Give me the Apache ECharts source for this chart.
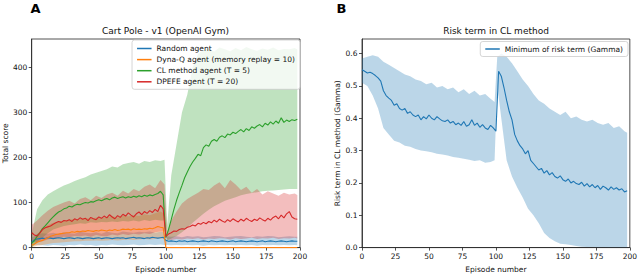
<!DOCTYPE html>
<html><head><meta charset="utf-8">
<script src="https://cdn.jsdelivr.net/npm/echarts/dist/echarts.min.js"></script>
<style>html,body{margin:0;padding:0;background:#fff}#c{width:640px;height:278px}</style>
</head><body><div id="c"></div>
<script>
// ---------- DATA ----------
const episodes = [0,2,4,6,8,10,12,14,16,18,20,22,24,26,28,30,32,34,36,38,40,42,44,46,48,50,52,54,56,58,60,62,64,66,68,70,72,74,76,78,80,82,84,86,88,90,92,94,96,98,
100,102,104,106,108,110,112,114,116,118,120,122,124,126,128,130,132,134,136,138,140,142,144,146,148,150,152,154,156,158,160,162,164,166,168,170,172,174,176,178,180,182,184,186,188,190,192,194,196,198];
const bandEpisodes = [0,4,8,12,16,20,24,28,32,36,40,44,48,52,56,60,64,68,72,76,80,84,88,92,96,99,101,
104,108,112,116,120,124,128,132,136,140,144,148,152,156,160,164,168,172,176,180,184,188,192,196,198];

const xTicks = [0,25,50,75,100,125,150,175,200];
const scoreTicks = [0,100,200,300,400];
const riskTicks = [0,0.1,0.2,0.3,0.4,0.5,0.6];

const agentNames = ['Random agent','Dyna-Q agent (memory replay = 10)','CL method agent (T = 5)','DPEFE agent (T = 20)'];
const riskName = 'Minimum of risk term (Gamma)';

const randomMean = [12,17,19,20,21,20,22,21,20,21,22,21,20,21,22,21,20,22,21,20,21,22,21,20,21,22,20,21,22,21,20,21,22,21,22,20,21,22,23,21,22,21,20,22,21,23,22,21,22,23,
16,14,15,14,13,15,14,15,13,14,15,14,13,14,15,14,13,15,14,13,14,15,14,13,14,15,13,14,15,14,13,14,15,14,13,14,15,13,14,15,14,13,14,15,14,13,14,15,14,14];
const dynaMean = [5,8,12,14,16,19,22,25,27,29,30,31,32,33,33,35,34,36,35,37,36,38,37,36,38,37,39,38,37,39,38,40,38,39,41,40,41,39,42,40,41,40,42,41,43,42,44,47,45,44,
0,0,0,0,0,0,0,0,0,0,0,0,0,0,0,0,0,0,0,0,0,0,0,0,0,0,0,0,0,0,0,0,0,0,0,0,0,0,0,0,0,0,0,0,0,0,0,0,0,0];
const clMean = [10,15,25,33,42,48,55,62,68,74,79,82,86,88,92,90,94,96,95,98,100,99,102,101,104,106,104,107,109,106,110,112,109,111,113,110,113,111,114,112,115,113,116,114,117,115,118,120,125,117,
22,40,62,85,105,122,138,155,168,180,190,198,207,204,222,228,225,236,240,236,245,248,244,252,250,256,253,258,262,257,264,260,268,265,270,273,268,276,272,279,274,281,276,288,278,283,280,284,282,285];
const dpefeMean = [33,28,26,32,40,44,46,48,52,55,58,56,60,59,62,58,64,61,66,63,65,60,67,64,62,68,65,70,66,73,68,64,71,67,74,70,77,72,68,75,79,73,80,76,82,78,85,80,94,86,
25,30,33,37,36,40,42,41,45,47,50,48,54,52,56,53,58,55,61,57,63,59,56,62,58,64,60,57,63,59,65,61,58,63,60,66,62,59,65,61,67,70,64,72,66,75,80,68,64,63];

const randomLow = [4,6,5,4,6,5,4,6,5,7,5,6,4,6,5,7,6,5,6,7,5,6,7,6,7, 6,6, 5,6,5,6,5,6,4,6,5,6,5,6,5,6,5,6,4,6,5,6,5,6,5,6, 5];
const randomHigh = [22,30,32,31,33,30,34,32,31,35,33,32,34,31,35,33,32,36,34,33,35,34,36,33,35, 34,25, 24,25,23,26,24,25,23,24,26,25,23,24,25,26,24,23,25,24,26,25,23,24,25,24, 24];
const dynaLow = [1,4,6,8,10,11,12,13,14,14,15,15,16,15,16,17,16,17,18,17,18,19,18,19,20, 18,0, 0,0,0,0,0,0,0,0,0,0,0,0,0,0,0,0,0,0,0,0,0,0,0,0, 0];
const dynaHigh = [12,30,42,50,55,58,60,62,64,63,66,64,67,65,68,70,67,71,69,72,70,74,72,76,80, 75,0, 0,0,0,0,0,0,0,0,0,0,0,0,0,0,0,0,0,0,0,0,0,0,0,0, 0];
const clLow = [0,12,22,32,40,44,48,50,52,54,53,56,55,57,56,58,57,59,58,60,58,61,59,62,60, 60,15, 20,26,34,44,55,65,75,84,92,98,104,108,112,116,119,121,123,125,126,127,128,129,130,130, 130];
const clHigh = [30,85,105,118,125,132,138,142,148,152,156,162,166,170,174,180,178,185,188,190,186,192,190,194,192, 195,50, 160,230,300,340,400,430,438,442,435,444,440,436,443,438,445,440,437,442,439,444,438,441,440,443, 440];
const dpefeLow = [15,12,14,18,20,22,24,23,26,25,27,24,28,26,25,29,27,30,28,31,29,32,30,34,36, 35,18, 17,19,18,20,19,21,18,20,19,21,20,18,21,19,20,22,19,21,20,22,19,21,20,22, 20];
const dpefeHigh = [50,60,72,82,90,95,100,104,98,108,112,105,115,110,118,122,115,126,120,130,125,135,140,132,150, 140,35, 60,80,98,108,115,122,130,128,138,145,132,150,140,128,135,122,130,118,125,120,115,122,118,120, 117];

const riskMean = [0.550,0.545,0.540,0.542,0.538,0.532,0.525,0.515,0.485,0.470,
0.462,0.455,0.440,0.445,0.430,0.425,0.430,0.415,0.420,0.410,
0.405,0.410,0.395,0.405,0.398,0.410,0.400,0.395,0.405,0.398,
0.392,0.390,0.395,0.385,0.390,0.380,0.385,0.378,0.390,0.375,
0.380,0.395,0.378,0.385,0.372,0.380,0.370,0.365,0.378,0.370,
0.360,0.545,0.530,0.495,0.455,0.420,0.395,0.350,0.330,0.315,
0.305,0.290,0.300,0.270,0.260,0.250,0.240,0.245,0.230,0.238,
0.225,0.232,0.220,0.215,0.222,0.210,0.205,0.212,0.200,0.205,
0.198,0.195,0.202,0.190,0.198,0.188,0.195,0.185,0.192,0.180,
0.190,0.185,0.178,0.188,0.180,0.185,0.178,0.182,0.172,0.176];
const riskHigh = [0.585,0.590,0.595,0.590,0.575,0.565,0.555,0.545,0.535,0.530,0.520,0.515,0.505,0.510,0.495,0.500,0.490,0.495,0.480,0.490,0.475,0.485,0.470,0.475,0.460,
0.450,0.590,
0.600,0.590,0.570,0.545,0.520,0.500,0.475,0.455,0.445,0.430,0.420,0.410,0.420,0.400,0.405,0.395,0.390,0.395,0.385,0.380,0.385,0.370,0.375,0.360,
0.355];
const riskLow = [0.510,0.500,0.470,0.430,0.370,0.350,0.330,0.325,0.315,0.312,0.305,0.300,0.298,0.295,0.290,0.288,0.285,0.280,0.278,0.275,0.272,0.268,0.270,0.262,0.265,
0.270,0.500,
0.400,0.270,0.220,0.185,0.155,0.120,0.100,0.075,0.045,0.030,0.020,0.012,0.010,0.008,0.005,0.003,0.002,0.002,0.000,0.001,0.000,0.000,0.000,0.000,
0.000];

// ---------- STYLE ----------
const FONT = 'DejaVu Sans';
const C = {blue:'#1f77b4', orange:'#ff7f0e', green:'#2ca02c', red:'#d62728'};
const AX = '#262626';

function pairs(xs, ys){ return xs.map((x,i)=>[x, ys[i]]); }
// fill between lo and hi, drawn as one polygon through the axis scales
function band(xs, lo, hi, color, gi){
  return {type:'custom', xAxisIndex:gi, yAxisIndex:gi, silent:true, clip:true, z:1,
    data: xs.map((x,i)=>[x, lo[i], hi[i]]),
    encode:{x:0, y:[1,2]},
    renderItem:function(params, api){
      if (params.dataIndex !== 0) return null;
      const pts = [];
      for (let i=0;i<xs.length;i++) pts.push(api.coord([xs[i], hi[i]]));
      for (let i=xs.length-1;i>=0;i--) pts.push(api.coord([xs[i], lo[i]]));
      return {type:'polygon', shape:{points:pts}, style:{fill:color, opacity:0.3}};
    }};
}
function line(name, xs, ys, color, gi){
  return {type:'line', name:name, xAxisIndex:gi, yAxisIndex:gi, data:pairs(xs, ys), symbol:'none', showSymbol:false,
    color:color, lineStyle:{color:color, width:1.1}, z:3};
}
function xAx(gi){
  return {gridIndex:gi, type:'value', min:0, max:200, interval:25,
    axisLine:{show:true, lineStyle:{color:AX, width:0.8}},
    axisTick:{show:true, length:3, lineStyle:{color:AX, width:0.8}},
    axisLabel:{fontSize:7.5, color:'#111', margin:4.5, fontFamily:FONT},
    splitLine:{show:false},
    name:'Episode number', nameLocation:'middle', nameGap:16,
    nameTextStyle:{fontSize:7.5, color:'#111', fontFamily:FONT}};
}
function yAx(gi, max, ticks, name, fmt){
  return {gridIndex:gi, type:'value', min:0, max:max,
    axisLine:{show:true, lineStyle:{color:AX, width:0.8}},
    axisTick:{show:true, length:3, customValues:ticks, lineStyle:{color:AX, width:0.8}},
    axisLabel:{fontSize:7.5, color:'#111', margin:4.5, fontFamily:FONT, customValues:ticks, formatter:fmt},
    splitLine:{show:false},
    name:name, nameLocation:'middle', nameGap:gi===0?21:20,
    nameTextStyle:{fontSize:7.5, color:'#111', fontFamily:FONT}};
}

const chart = echarts.init(document.getElementById('c'), null, {renderer:'svg', width:640, height:278});
const series = [
  band(bandEpisodes, randomLow, randomHigh, C.blue, 0),
  band(bandEpisodes, dynaLow, dynaHigh, C.orange, 0),
  band(bandEpisodes, clLow, clHigh, C.green, 0),
  band(bandEpisodes, dpefeLow, dpefeHigh, C.red, 0),
  band(bandEpisodes, riskLow, riskHigh, C.blue, 1),
  line(agentNames[0], episodes, randomMean, C.blue, 0),
  line(agentNames[1], episodes, dynaMean, C.orange, 0),
  line(agentNames[2], episodes, clMean, C.green, 0),
  line(agentNames[3], episodes, dpefeMean, C.red, 0),
  line(riskName, episodes, riskMean, C.blue, 1)
];
const legendBase = {orient:'vertical', icon:'rect', itemWidth:14.5, itemHeight:1.5, itemGap:2.1,
  backgroundColor:'rgba(255,255,255,0.8)', borderColor:'#cccccc', borderWidth:0.8, borderRadius:2.5,
  padding:[4,5,3,5], selectedMode:false,
  textStyle:{fontSize:7.5, lineHeight:9, color:'#111', fontFamily:FONT}};
chart.setOption({
  animation:false,
  backgroundColor:'#ffffff',
  grid:[
    {left:31, top:39, width:269, height:213, show:true, borderColor:AX, borderWidth:0.8, backgroundColor:'transparent'},
    {left:362, top:39, width:268, height:213, show:true, borderColor:AX, borderWidth:0.8, backgroundColor:'transparent'}
  ],
  xAxis:[xAx(0), xAx(1)],
  yAxis:[
    yAx(0, 463, scoreTicks, 'Total score', v=>String(v)),
    yAx(1, 0.645, riskTicks, 'Risk term in CL method (Gamma)', v=>v.toFixed(1))
  ],
  legend:[
    Object.assign({}, legendBase, {data:agentNames, right:340, top:40}),
    Object.assign({}, legendBase, {data:[riskName], right:12, top:41.5, padding:[3,5,3,5]})
  ],
  graphic:[
    {type:'text', x:30.5, y:8, style:{text:'A', fontSize:13, fontWeight:'bold', fontFamily:FONT, fill:'#000', align:'left', verticalAlign:'middle'}},
    {type:'text', x:336.5, y:8, style:{text:'B', fontSize:13, fontWeight:'bold', fontFamily:FONT, fill:'#000', align:'left', verticalAlign:'middle'}},
    {type:'text', x:165.5, y:31, style:{text:'Cart Pole - v1 (OpenAI Gym)', fontSize:9, fontFamily:FONT, fill:'#111', align:'center', verticalAlign:'middle'}},
    {type:'text', x:496, y:31, style:{text:'Risk term in CL method', fontSize:9, fontFamily:FONT, fill:'#111', align:'center', verticalAlign:'middle'}}
  ],
  series:series
});
</script>
</body></html>
